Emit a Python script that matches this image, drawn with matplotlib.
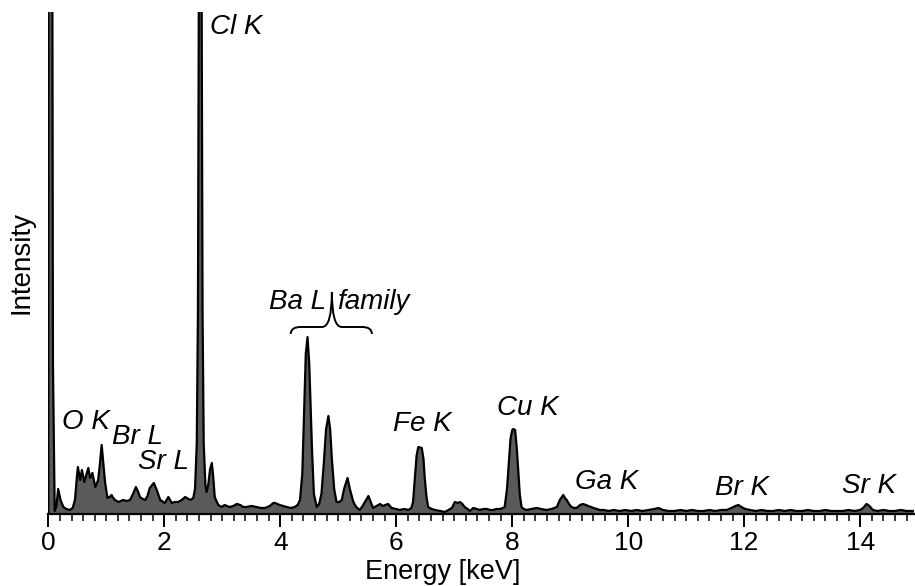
import numpy as np
import matplotlib.pyplot as plt
from matplotlib.path import Path
from matplotlib.patches import PathPatch

# spectrum (energy in keV, intensity in arbitrary units)
energy = [0.00, 0.005, 0.06, 0.08, 0.11, 0.14, 0.17, 0.21, 0.26, 0.31, 0.37, 0.42, 0.46, 0.49,
          0.51, 0.55, 0.58, 0.62, 0.66, 0.69, 0.72, 0.76, 0.81, 0.86, 0.89, 0.92, 0.95, 0.98,
          1.02, 1.06, 1.09, 1.12, 1.15, 1.21, 1.25, 1.29, 1.35, 1.41, 1.46, 1.51, 1.55, 1.58,
          1.63, 1.67, 1.71, 1.75, 1.79, 1.82, 1.87, 1.93, 2.01, 2.07, 2.13, 2.18, 2.24, 2.30,
          2.36, 2.45, 2.50, 2.53, 2.56, 2.58, 2.60, 2.62, 2.64, 2.66, 2.68, 2.71, 2.73, 2.76,
          2.79, 2.82, 2.84, 2.87, 2.93, 2.99, 3.04, 3.08, 3.13, 3.19, 3.25, 3.31, 3.36, 3.42,
          3.50, 3.59, 3.66, 3.74, 3.82, 3.88, 3.91, 3.99, 4.05, 4.11, 4.18, 4.25, 4.30, 4.34,
          4.38, 4.41, 4.44, 4.47, 4.50, 4.52, 4.55, 4.58, 4.63, 4.67, 4.71, 4.75, 4.79, 4.83,
          4.86, 4.89, 4.93, 4.97, 5.02, 5.06, 5.10, 5.16, 5.20, 5.26, 5.31, 5.37, 5.42, 5.46,
          5.52, 5.56, 5.60, 5.66, 5.72, 5.77, 5.81, 5.86, 5.92, 6.00, 6.06, 6.14, 6.21, 6.26,
          6.29, 6.32, 6.35, 6.38, 6.44, 6.47, 6.49, 6.52, 6.55, 6.61, 6.67, 6.76, 6.84, 6.90,
          6.96, 7.01, 7.06, 7.10, 7.14, 7.18, 7.23, 7.27, 7.33, 7.39, 7.44, 7.50, 7.56, 7.62,
          7.67, 7.73, 7.79, 7.84, 7.87, 7.91, 7.94, 7.97, 8.00, 8.02, 8.05, 8.08, 8.10, 8.13,
          8.16, 8.20, 8.25, 8.33, 8.42, 8.50, 8.59, 8.68, 8.77, 8.82, 8.88, 8.91, 8.94, 8.98,
          9.02, 9.07, 9.11, 9.17, 9.22, 9.27, 9.31, 9.36, 9.40, 9.46, 9.51, 9.58, 9.66, 9.75,
          9.85, 9.95, 10.05, 10.15, 10.25, 10.35, 10.45, 10.52, 10.60, 10.70, 10.80, 10.90,
          11.00, 11.10, 11.20, 11.30, 11.40, 11.50, 11.60, 11.70, 11.78, 11.85, 11.90, 11.95,
          12.02, 12.10, 12.20, 12.30, 12.40, 12.50, 12.60, 12.70, 12.80, 12.90, 13.00, 13.10,
          13.20, 13.30, 13.40, 13.50, 13.60, 13.70, 13.80, 13.90, 14.00, 14.05, 14.11, 14.16,
          14.22, 14.30, 14.40, 14.50, 14.60, 14.70, 14.80, 14.90, 15.00]
intensity = [0, 900, 900, 150, 3, 8, 25, 14, 7, 5, 4, 6, 14, 35,
             47, 34, 44, 32, 40, 46, 36, 41, 27, 34, 50, 69, 50, 31,
             16, 17, 19, 16, 14, 12, 13, 14, 13, 14, 20, 27, 22, 17,
             15, 14, 18, 26, 29, 31, 24, 14, 11, 17, 11, 12, 12, 14,
             17, 14, 16, 25, 70, 200, 600, 900, 600, 200, 70, 28, 22, 30,
             45, 51, 40, 17, 9, 7, 9, 8, 7, 8, 10, 9, 7, 7,
             8, 7, 6, 6, 8, 11, 11, 9, 8, 7, 6, 7, 9, 14,
             40, 100, 160, 177, 150, 114, 60, 20, 7, 10, 20, 50, 85, 98,
             85, 55, 25, 12, 12, 14, 25, 36, 25, 12, 7, 4, 8, 12,
             18, 12, 6, 8, 10, 8, 9, 10, 6, 5, 4, 5, 4, 6,
             12, 35, 58, 67, 66, 55, 37, 18, 7, 5, 4, 3, 2, 4,
             6, 12, 11, 12, 10, 7, 5, 3, 6, 5, 4, 5, 5, 4,
             4, 5, 5, 6, 7, 25, 50, 75, 84, 85, 84, 65, 47, 20,
             7, 5, 4, 5, 6, 5, 4, 5, 7, 14, 19, 16, 14, 10,
             7, 6, 6, 9, 10, 9, 8, 7, 6, 5, 4, 4, 3, 4,
             3, 4, 3, 4, 3, 4, 5, 6, 4, 3, 3, 4,
             3, 4, 3, 3, 4, 3, 4, 4, 6, 8, 9, 7,
             5, 4, 3, 4, 3, 3, 4, 3, 4, 3, 3, 4,
             3, 3, 4, 3, 3, 3, 4, 3, 4, 6, 10, 8,
             4, 3, 4, 3, 3, 4, 3, 3, 3]

# peak labels: text, left x (keV), centre y
peak_labels = ["O K", "Br L", "Sr L", "Cl K", "Fe K", "Cu K", "Ga K", "Br K", "Sr K"]
label_x = [0.23, 1.09, 1.55, 2.79, 5.95, 7.73, 9.08, 11.49, 13.68]
label_y = [92, 77, 52, 487, 90, 106, 32, 26, 28]

plt.rcParams['font.family'] = ['Liberation Sans', 'DejaVu Sans']

fig = plt.figure(figsize=(9.15, 5.86), dpi=100)
ax = fig.add_axes([0.0528, 0.1229, 0.9462, 0.8566])

ax.fill_between(energy, intensity, 0, color='#5a5a5a', lw=0)
ax.plot(energy, intensity, color='black', lw=1.6)

ax.set_xlim(0, 14.93)
ax.set_ylim(0, 502)

for t, x, y in zip(peak_labels, label_x, label_y):
    ax.text(x, y, t, fontsize=20, style='italic', ha='left', va='center')

# Ba L family with curly brace
ax.text(4.79, 212, "Ba L", fontsize=20, style='italic', ha='right', va='center')
ax.text(4.98, 212, "family", fontsize=20, style='italic', ha='left', va='center')
verts = [(4.18, 180), (4.18, 187), (4.35, 187), (4.72, 187), (4.89, 187), (4.89, 222),
         (4.89, 187), (5.06, 187), (5.41, 187), (5.58, 187), (5.58, 180)]
codes = [Path.MOVETO, Path.CURVE3, Path.CURVE3, Path.LINETO, Path.CURVE3, Path.CURVE3,
         Path.CURVE3, Path.CURVE3, Path.LINETO, Path.CURVE3, Path.CURVE3]
ax.add_patch(PathPatch(Path(verts, codes), facecolor='none', edgecolor='black', lw=1.4))

for s in ['left', 'top', 'right']:
    ax.spines[s].set_visible(False)
ax.spines['bottom'].set_linewidth(1.6)

ax.set_yticks([])
ax.set_xticks(np.arange(0, 15, 2))
ax.set_xticks(np.arange(0, 15, 0.2), minor=True)
ax.tick_params(axis='x', which='major', length=9.5, width=1.4, labelsize=19, pad=3)
ax.tick_params(axis='x', which='minor', length=5, width=1.1)

ax.set_xlabel("Energy [keV]", fontsize=19.5, labelpad=0)
ax.xaxis.set_label_coords(0.456, -0.09)
ax.set_ylabel("Intensity", fontsize=20, labelpad=10)

fig.savefig("out.png", dpi=100)
